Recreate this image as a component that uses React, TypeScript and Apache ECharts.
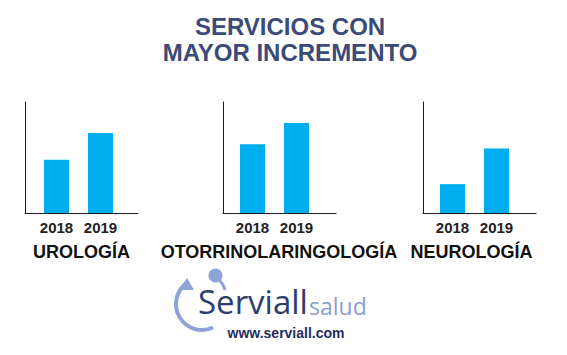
import React, { useEffect, useRef } from 'react';
import * as echarts from 'echarts';

// ---- data ----
const years = ['2018', '2019'];
const services = ['UROLOGÍA', 'OTORRINOLARINGOLOGÍA', 'NEUROLOGÍA'];
const urologia = [48, 72];
const otorrinolaringologia = [62, 81];
const neurologia = [26, 58];
const serviceValues = [urologia, otorrinolaringologia, neurologia];
const yMax = 100;
const titleLines = ['SERVICIOS CON', 'MAYOR INCREMENTO'];
const brandMain = 'Serviall';
const brandSub = 'salud';
const brandUrl = 'www.serviall.com';

// ---- layout / style ----
const FONT = '"Liberation Sans", Arial, Helvetica, sans-serif';
const LOGO_FONT = '"Open Sans", "Noto Sans", sans-serif';
const BAR_COLOR = '#00AEEF';
const AXIS_COLOR = '#1a1a1a';
const TITLE_COLOR = '#3B4A78';
const LOGO_LIGHT = '#8EA3D6';
const panels = [
  { frameLeft: 25, barLeft: 34.5, labelX: 81.5 },
  { frameLeft: 223, barLeft: 230.5, labelX: 279 },
  { frameLeft: 423, barLeft: 430.5, labelX: 471.5 },
];
const GRID_TOP = 102;
const GRID_H = 111;
const FRAME_W = 113;
const BAR_GRID_W = 88;

export default function App() {
  const ref = useRef<HTMLDivElement>(null);

  useEffect(() => {
    if (!ref.current) return;
    const chart = echarts.init(ref.current, null, { renderer: 'svg' });

    const grid: any[] = [];
    const xAxis: any[] = [];
    const yAxis: any[] = [];
    const series: any[] = [];

    panels.forEach((p, i) => {
      grid.push({ left: p.frameLeft, top: GRID_TOP, width: FRAME_W, height: GRID_H });
      grid.push({ left: p.barLeft, top: GRID_TOP, width: BAR_GRID_W, height: GRID_H });
      const fi = i * 2;
      const bi = i * 2 + 1;
      xAxis.push({
        gridIndex: fi, type: 'value', min: 0, max: 1,
        axisLine: { show: true, onZero: false, lineStyle: { color: AXIS_COLOR, width: 1 } },
        axisTick: { show: false }, axisLabel: { show: false }, splitLine: { show: false },
      });
      yAxis.push({
        gridIndex: fi, type: 'value', min: 0, max: 1,
        axisLine: { show: true, onZero: false, lineStyle: { color: AXIS_COLOR, width: 1 } },
        axisTick: { show: false }, axisLabel: { show: false }, splitLine: { show: false },
      });
      xAxis.push({
        gridIndex: bi, type: 'category', data: years,
        axisLine: { show: false }, axisTick: { show: false }, splitLine: { show: false },
        axisLabel: { fontSize: 15, fontWeight: 'bold', color: '#222', margin: 7, fontFamily: FONT },
      });
      yAxis.push({
        gridIndex: bi, type: 'value', min: 0, max: yMax, show: false, splitLine: { show: false },
      });
      series.push({
        type: 'bar', name: services[i], xAxisIndex: bi, yAxisIndex: bi,
        data: serviceValues[i], barWidth: 25, itemStyle: { color: BAR_COLOR },
      });
    });

    const graphic: any[] = [];
    titleLines.forEach((t, i) => {
      graphic.push({
        type: 'text', x: 290, y: 26.5 + i * 25.5,
        style: {
          text: t, fill: TITLE_COLOR, font: `bold 24px ${FONT}`,
          textAlign: 'center', textVerticalAlign: 'middle',
        },
      });
    });
    services.forEach((s, i) => {
      graphic.push({
        type: 'text', x: panels[i].labelX, y: 252,
        style: {
          text: s, fill: '#111', font: `bold 18px ${FONT}`,
          textAlign: 'center', textVerticalAlign: 'middle',
        },
      });
    });
    // logo
    graphic.push({
      type: 'arc',
      shape: { cx: 202, cy: 304, r: 26, startAngle: Math.PI * 0.36, endAngle: Math.PI * 1.31, clockwise: true },
      style: { stroke: LOGO_LIGHT, lineWidth: 4, fill: 'none' },
    });
    graphic.push({
      type: 'polygon',
      shape: { points: [[187, 278], [179, 290], [194, 290]] },
      style: { fill: LOGO_LIGHT },
    });
    graphic.push({
      type: 'bezierCurve',
      shape: { x1: 218, y1: 279, x2: 225, y2: 290, cpx1: 223, cpy1: 283 },
      style: { stroke: LOGO_LIGHT, lineWidth: 3, fill: 'none' },
    });
    graphic.push({
      type: 'circle', shape: { cx: 215.5, cy: 275.5, r: 7 },
      style: { fill: LOGO_LIGHT },
    });
    graphic.push({
      type: 'text', x: 198, y: 301.5,
      style: {
        text: brandMain, fill: '#2E3D70', font: `400 33px ${LOGO_FONT}`, lineHeight: 26,
        textAlign: 'left', textVerticalAlign: 'middle',
      },
    });
    graphic.push({
      type: 'text', x: 309, y: 306,
      style: {
        text: brandSub, fill: '#8A9DD2', font: `400 23px ${LOGO_FONT}`, lineHeight: 18,
        textAlign: 'left', textVerticalAlign: 'middle',
      },
    });
    graphic.push({
      type: 'text', x: 286, y: 332.5,
      style: {
        text: brandUrl, fill: '#1F2D5E', font: `bold 14px ${FONT}`, lineHeight: 12,
        textAlign: 'center', textVerticalAlign: 'middle',
      },
    });

    chart.setOption({
      animation: false,
      backgroundColor: '#ffffff',
      grid, xAxis, yAxis, series, graphic,
    });

    return () => chart.dispose();
  }, []);

  return (
    <div
      ref={ref}
      style={{ position: 'absolute', left: 0, top: 0, width: 567, height: 355 }}
    />
  );
}
